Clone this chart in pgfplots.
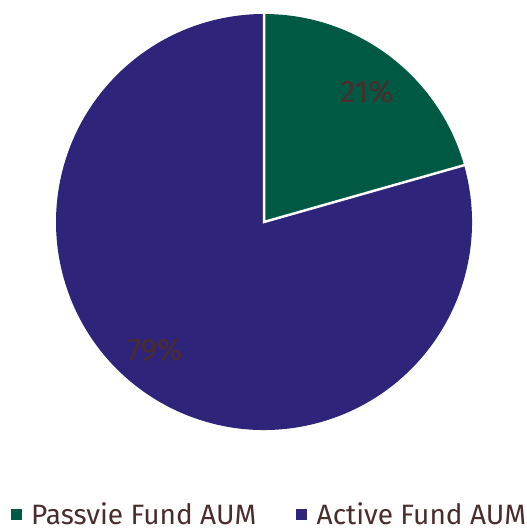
\documentclass[border=0pt]{standalone}
\usepackage{pgfplots}
\pgfplotsset{compat=1.18}
\usepackage{pgfplotstable}
\usepackage{fontspec}
\setmainfont{Fira Sans}
\definecolor{passivegreen}{HTML}{005A43}
\definecolor{activeblue}{HTML}{2E2479}
\definecolor{labeltext}{HTML}{4A2C2C}

% share of AUM, percent
\pgfplotstableread{
label value
Passive 20.6
Active 79.4
}\piedata

\begin{document}
\begin{tikzpicture}
\pgfplotstablegetelem{0}{value}\of\piedata
\pgfmathsetmacro\cut{90-3.6*\pgfplotsretval}
\begin{axis}[
    hide axis,
    scale only axis,
    width=527pt, height=531pt,
    xmin=0, xmax=527, ymin=0, ymax=531,
    clip=false,
    legend columns=2,
    legend style={at={(0.5,0)}, anchor=south, draw=none, fill=none, inner sep=0pt,
        yshift=3pt, xshift=6pt,
        font=\fontsize{28}{30}\selectfont\color{labeltext},
        /tikz/every odd column/.append style={column sep=8pt},
        /tikz/every even column/.append style={column sep=38pt}},
    legend image code/.code={\fill[#1] (0pt,-5pt) rectangle (10pt,5pt);},
]
\addlegendimage{passivegreen, fill=passivegreen}
\addlegendentry{Passvie Fund AUM}
\addlegendimage{activeblue, fill=activeblue}
\addlegendentry{Active Fund AUM}

\fill[passivegreen] (axis cs:264,309) -- (axis cs:264,517)
    arc[start angle=90, end angle=\cut, radius=208pt] -- cycle;
\fill[activeblue] (axis cs:264,309) -- ++(\cut:208pt)
    arc[start angle=\cut, end angle=-270, radius=208pt] -- cycle;
\draw[white, line width=2.5pt] (axis cs:264,517) -- (axis cs:264,309) -- ++(\cut:209pt);

\node[font=\fontsize{31}{33}\selectfont, text=labeltext] at (axis cs:367,439) {21\%};
\node[font=\fontsize{31}{33}\selectfont, text=labeltext] at (axis cs:155,181) {79\%};
\end{axis}
\pgfresetboundingbox
\path[use as bounding box] (0,0) rectangle (527pt,531pt);
\end{tikzpicture}
\end{document}
